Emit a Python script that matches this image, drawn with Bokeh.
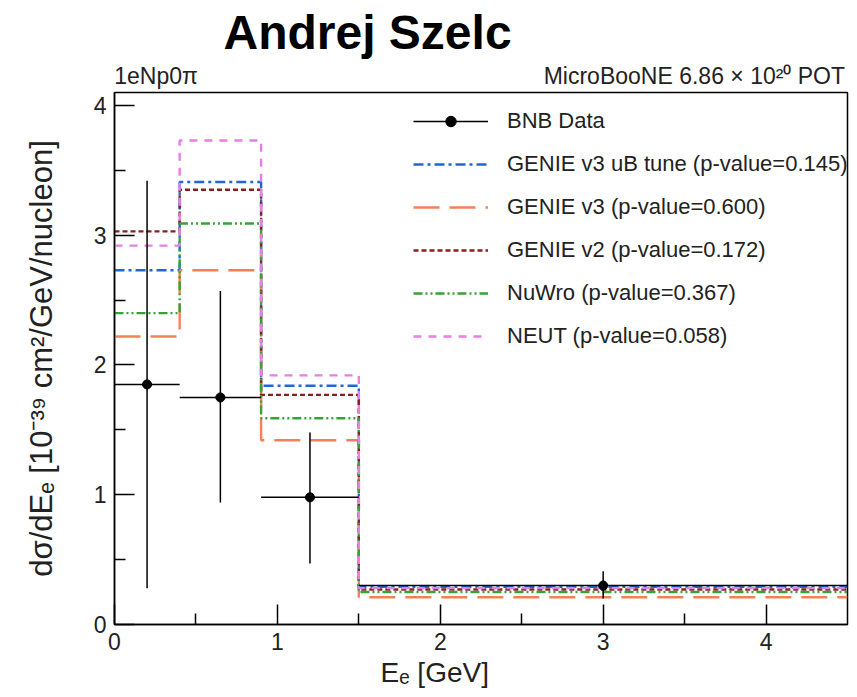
import numpy as np
from bokeh.plotting import figure
from bokeh.models import Range1d, FixedTicker, Legend, LegendItem, LinearAxis, Title
from bokeh.embed import file_html
from bokeh.resources import INLINE

# ---- data ----
bin_edges = [0.0, 0.4, 0.9, 1.5, 4.5]
data_val = [1.85, 1.75, 0.98, 0.30]
data_lo = [0.28, 0.94, 0.47, 0.20]
data_hi = [3.42, 2.57, 1.48, 0.41]

genie_v3_ub = [2.73, 3.41, 1.84, 0.29]
genie_v3 = [2.22, 2.73, 1.42, 0.21]
genie_v2 = [3.03, 3.35, 1.77, 0.27]
nuwro = [2.40, 3.09, 1.59, 0.25]
neut = [2.92, 3.73, 1.92, 0.28]

model_labels = [
    "GENIE v3 uB tune (p-value=0.145)",
    "GENIE v3 (p-value=0.600)",
    "GENIE v2 (p-value=0.172)",
    "NuWro (p-value=0.367)",
    "NEUT (p-value=0.058)",
]
x_ticks = [0, 1, 2, 3, 4]
y_ticks = [0, 1, 2, 3, 4]
top_left_text = "1eNp0π"
top_right_text = "MicroBooNE 6.86 × 10²⁰ POT"

FONT = "Liberation Sans"

edges = np.array(bin_edges)
centers = 0.5 * (edges[:-1] + edges[1:])

p = figure(width=857, height=697,
           x_range=Range1d(0, 4.5), y_range=Range1d(0, 4.1),
           output_backend="svg", toolbar_location=None,
           min_border_left=114, min_border_right=10,
           min_border_top=92, min_border_bottom=73)
p.background_fill_color = "white"
p.border_fill_color = "white"
p.xgrid.visible = False
p.ygrid.visible = False
p.outline_line_color = "black"
p.outline_line_width = 1.5
p.outline_line_alpha = 1.0

# axes
for ax, ticks in ((p.xaxis[0], x_ticks), (p.yaxis[0], y_ticks)):
    ax.ticker = FixedTicker(ticks=ticks, minor_ticks=[t + 0.5 for t in ticks[:-1]])
    ax.major_tick_in = 20
    ax.major_tick_out = 0
    ax.minor_tick_in = 11
    ax.minor_tick_out = 0
    ax.major_tick_line_color = "black"
    ax.minor_tick_line_color = "black"
    ax.major_tick_line_width = 1.5
    ax.minor_tick_line_width = 1.5
    ax.axis_line_color = "black"
    ax.axis_line_width = 1.5
    ax.major_label_text_font = FONT
    ax.major_label_text_font_size = "23px"
    ax.major_label_text_color = "#222222"
    ax.major_label_standoff = 8

p.yaxis.axis_label = "dσ/dEₑ [10⁻³⁹ cm²/GeV/nucleon]"
p.yaxis.axis_label_text_font = FONT
p.yaxis.axis_label_text_font_size = "31px"
p.yaxis.axis_label_text_font_style = "normal"
p.yaxis.axis_label_text_color = "#222222"
p.yaxis.axis_label_standoff = 32

# top annotation line (left / right texts) as a tick-less top axis
pos_left, pos_right = 0.255, 3.56
top_ax = LinearAxis(ticker=FixedTicker(ticks=[pos_left, pos_right], minor_ticks=[]),
                    major_label_overrides={pos_left: top_left_text, pos_right: top_right_text},
                    major_tick_in=0, major_tick_out=0, axis_line_alpha=0,
                    major_label_text_font=FONT, major_label_text_font_size="23px",
                    major_label_text_color="#222222", major_label_standoff=4)
p.add_layout(top_ax, "above")

# main title
title = Title(text="Andrej Szelc", text_font=FONT, text_font_size="48px",
              text_font_style="bold", text_color="black", align="left",
              offset=109, standoff=2)
p.add_layout(title, "above")

# x axis label
xlab = Title(text="Eₑ [GeV]", text_font=FONT, text_font_size="28px",
             text_font_style="normal", text_color="#222222", align="left",
             offset=266, standoff=4)
p.add_layout(xlab, "below")

# models as step histograms
styles = [
    (genie_v3_ub, "#1f66d9", "10 4 3 4"),
    (genie_v3, "#f28157", "26 10"),
    (genie_v2, "#8b1e1e", "5 3"),
    (nuwro, "#36a336", "9 3 2 3 2 3"),
    (neut, "#e67ee6", "8 7"),
]
model_renderers = []
for vals, col, dash in styles:
    yv = list(vals) + [vals[-1]]
    r = p.step(x=bin_edges, y=yv, mode="after", line_color=col,
               line_width=2.4, line_dash=dash)
    model_renderers.append(r)

# data points with error bars
rh = p.segment(x0=edges[:-1], x1=edges[1:], y0=data_val, y1=data_val,
               line_color="black", line_width=1.5)
rv = p.segment(x0=centers, x1=centers, y0=data_lo, y1=data_hi,
               line_color="black", line_width=1.5)
rc = p.scatter(x=centers, y=data_val, marker="cross", size=10,
               line_color="black", line_width=1.5)
rd = p.scatter(x=centers, y=data_val, marker="circle", size=9,
               fill_color="black", line_color="black")

items = [LegendItem(label="BNB Data", renderers=[rh, rc, rd])]
for lab, r in zip(model_labels, model_renderers):
    items.append(LegendItem(label=lab, renderers=[r]))

legend = Legend(items=items, location=(299, 275),
                glyph_width=75, glyph_height=26, label_height=26,
                spacing=17, padding=0, margin=0, label_standoff=19,
                label_text_font=FONT, label_text_font_size="22px",
                label_text_color="#222222",
                border_line_alpha=0, background_fill_alpha=0)
p.add_layout(legend)

open("out.html", "w").write(file_html(p, INLINE))
